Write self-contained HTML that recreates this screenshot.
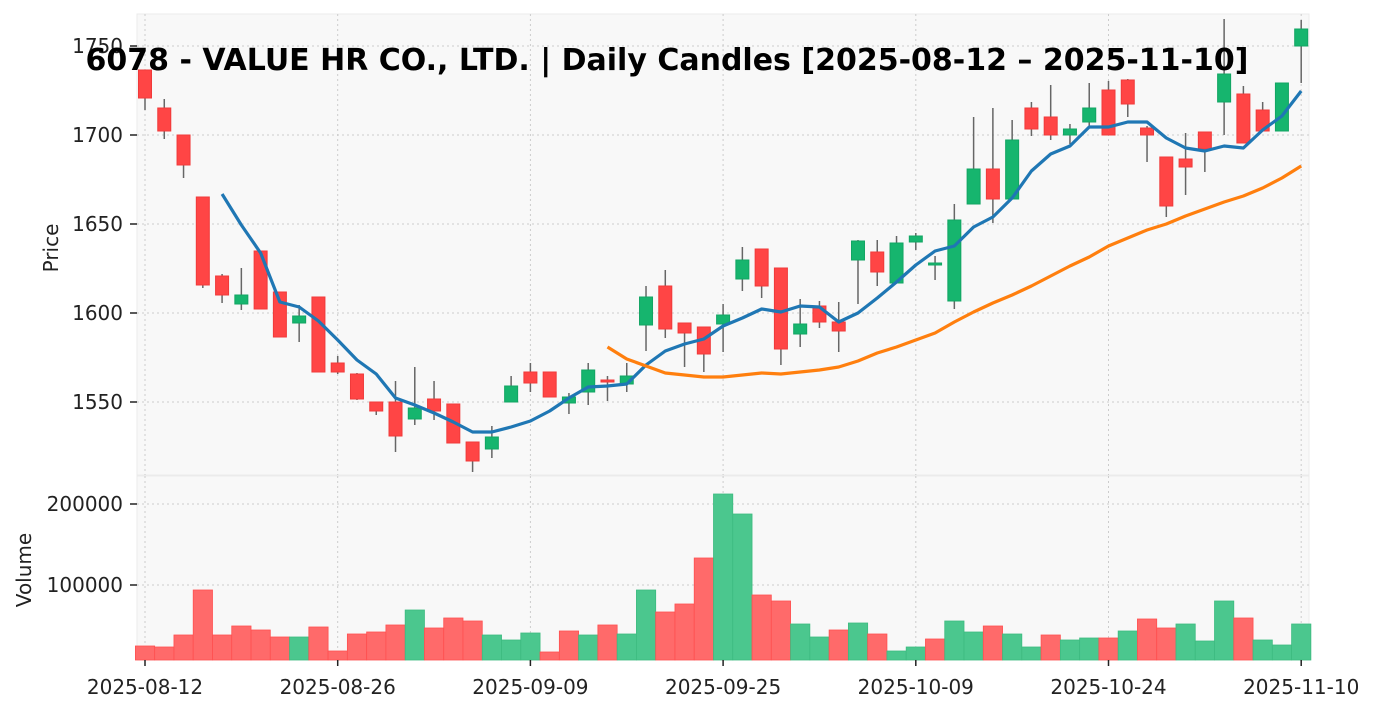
<!DOCTYPE html>
<html><head><meta charset="utf-8"><style>
body{margin:0;background:#fff;}
svg{display:block;font-family:"DejaVu Sans","Liberation Sans",sans-serif;}
</style></head><body>
<svg id="s" width="1376" height="711" xmlns="http://www.w3.org/2000/svg">
<rect x="137" y="14" width="1172" height="461" fill="#f8f8f8" stroke="#ebebeb"/>
<rect x="137" y="476" width="1172" height="184" fill="#f8f8f8" stroke="#ebebeb"/>
<g id="grid" stroke="#cccccc" stroke-dasharray="2,3" stroke-width="1"></g>
<g id="vol"></g>
<g id="cand"></g>
<g id="ma"></g>
<g id="ax" fill="#222" font-size="20"></g>
<text x="667" y="70" text-anchor="middle" font-size="30" font-weight="bold" fill="#000">6078 - VALUE HR CO., LTD. | Daily Candles [2025-08-12 – 2025-11-10]</text>
<text transform="translate(58,248) rotate(-90)" text-anchor="middle" font-size="20" fill="#222">Price</text>
<text transform="translate(31,570) rotate(-90)" text-anchor="middle" font-size="20" fill="#222">Volume</text>
</svg>
<script>
const NS="http://www.w3.org/2000/svg";
function el(p,t,a,txt){const e=document.createElementNS(NS,t);for(const k in a)e.setAttribute(k,a[k]);if(txt!==undefined)e.textContent=txt;document.getElementById(p).appendChild(e);return e;}
const X=i=>145+19.27*i;
const xt=[[0,"2025-08-12"],[10,"2025-08-26"],[20,"2025-09-09"],[30,"2025-09-25"],[40,"2025-10-09"],[50,"2025-10-24"],[60,"2025-11-10"]];
xt.forEach(([i,l])=>{const x=X(i);el("grid","line",{x1:x,x2:x,y1:14,y2:475});el("grid","line",{x1:x,x2:x,y1:476,y2:660});
el("ax","line",{x1:x,x2:x,y1:660,y2:666,stroke:"#222","stroke-width":1.5});el("ax","text",{x:x,y:694,"text-anchor":"middle"},l);});
[[1750,46],[1700,135],[1650,224],[1600,313],[1550,402]].forEach(([v,y])=>{el("grid","line",{x1:137,x2:1309,y1:y,y2:y});
el("ax","line",{x1:130,x2:137,y1:y,y2:y,stroke:"#222","stroke-width":1.5});el("ax","text",{x:123,y:y+7,"text-anchor":"end"},v);});
[[200000,504],[100000,585]].forEach(([v,y])=>{el("grid","line",{x1:137,x2:1309,y1:y,y2:y});
el("ax","line",{x1:130,x2:137,y1:y,y2:y,stroke:"#222","stroke-width":1.5});el("ax","text",{x:123,y:y+7,"text-anchor":"end"},v);});
const C=[
"R,70,98,70,110","R,108,131,99,139","R,135,165,135,178","R,197,285,197,288","R,276,295,274,303","G,295,304,268,310","R,251,309,251,309","R,292,337,292,337","G,316,323,305,342","R,297,372,297,372",
"R,363,372,356,374","R,374,399,373,400","R,402,411,402,415","R,402,436,381,452","G,408,419,367,425","R,399,411,381,420","R,404,443,404,443","R,442,461,442,472","G,437,449,426,458","G,386,402,376,402",
"R,372,383,363,392","R,372,397,372,397","G,397,403,393,414","G,370,392,363,405","R,380,382,376,401","G,376,384,363,392","G,297,325,286,351","R,286,329,270,338","R,323,333,323,367","R,327,354,327,372",
"G,315,324,304,352","G,260,279,247,291","R,249,286,249,298","R,268,349,268,365","G,324,334,299,347","R,306,322,301,328","R,322,331,302,352","G,241,260,240,304","R,252,272,240,286","G,243,283,236,283",
"G,236,242,233,250","G,263,265,256,280","G,220,301,204,309","G,169,204,117,204","R,169,199,108,223","G,140,199,120,199","R,108,129,102,136","R,117,135,85,140","G,129,135,124,144","G,108,122,83,127",
"R,90,135,81,135","R,80,104,79,117","R,128,135,126,162","R,157,206,157,217","R,159,167,133,195","R,132,149,132,172","G,74,102,19,135","R,94,143,86,143","R,110,131,102,131","G,83,131,83,131",
"G,29,46,20,83"];
C.forEach((s,i)=>{const [c,a,b,h,l]=s.split(",");const x=X(i);
el("cand","line",{x1:x,x2:x,y1:+h,y2:+l,stroke:"#666","stroke-width":1.5});
const col=c=="R"?"#ff4545":"#16b56e",sc=c=="R"?"#f03a3a":"#12a563";
el("cand","rect",{x:x-6.5,y:+a,width:13,height:Math.max(2,b-a),fill:col,stroke:sc,"stroke-width":1});});
const V="R646,R647,R635,R590,R635,R626,R630,R637,G637,R627,R651,R634,R632,R625,G610,R628,R618,R621,G635,G640,G633,R652,R631,G635,R625,G634,G590,R612,R604,R558,G494,G514,R595,R601,G624,G637,R630,G623,R634,G651,G647,R639,G621,G632,R626,G634,G647,R635,G640,G638,R638,G631,R619,R628,G624,G641,G601,R618,G640,G645,G624".split(",");
V.forEach((s,i)=>{const c=s[0],y=+s.slice(1);const x=X(i);
el("vol","rect",{x:x-9.6,y:y,width:19.27,height:660-y,fill:c=="R"?"#ff6a6a":"#4bc78e",stroke:c=="R"?"#ff5050":"#3dbb80","stroke-width":0.8});});
const B=[194,225,253,302,307,321,340,360,374,398,405,413,422,432,432,427,421,411,398,387,386,384,365,351,344,339,326,318,309,312,306,307,322,313,298,282,265,251,246,227,217,198,171,154,146,127,127,122,122,138,148,151,146,148,130,116,91];
el("ma","polyline",{points:B.map((y,k)=>X(k+4)+","+y).join(" "),fill:"none",stroke:"#1f77b4","stroke-width":3.2,"stroke-linejoin":"round"});
const O=[347,359,366,373,375,377,377,375,373,374,372,370,367,361,353,347,340,333,322,312,303,295,286,276,266,257,246,238,230,224,216,209,202,196,188,178,166];
el("ma","polyline",{points:O.map((y,k)=>X(k+24)+","+y).join(" "),fill:"none",stroke:"#ff7f0e","stroke-width":3.2,"stroke-linejoin":"round"});
</script>
</body></html>
